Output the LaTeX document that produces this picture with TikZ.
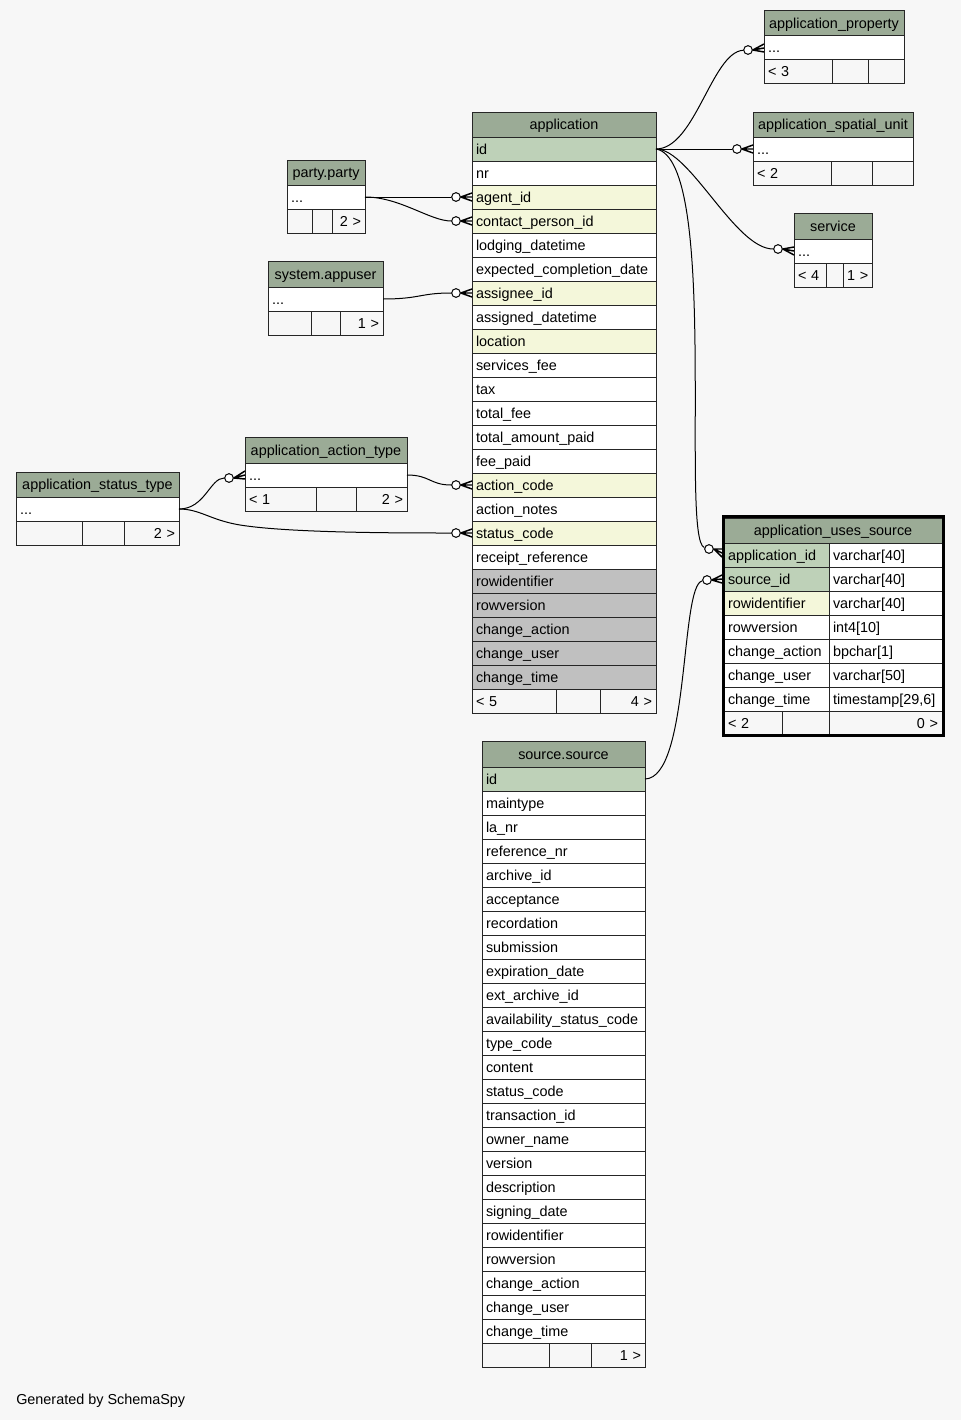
\documentclass[tikz,border=0pt]{standalone}
\usepackage{fontspec}
\setmainfont{Liberation Sans}
\definecolor{bg}{HTML}{F7F7F7}
\definecolor{hd}{HTML}{9BAB96}
\definecolor{pk}{HTML}{BED1B8}
\definecolor{fk}{HTML}{F4F7DA}
\definecolor{wh}{HTML}{FFFFFF}
\definecolor{gr}{HTML}{C0C0C0}
\definecolor{ft}{HTML}{F7F7F7}
\tikzset{
  cell/.style={draw=black!85, line width=0.75pt, inner xsep=3pt, inner ysep=0pt,
    outer sep=0pt, text height=9pt, text depth=1.5pt},
  conn/.style={draw=black, line width=0.75pt},
  foot/.style={draw=black, line width=1.1pt},
  dot/.style={circle, draw=black, fill=white, line width=0.75pt,
    minimum size=6.5pt, inner sep=0pt},
}
% one table cell: name, left, top, width, height, fill, alignment, text
\newcommand\erdcell[8]{%
  \pgfmathsetlengthmacro\erdw{#4*0.75pt}%
  \pgfmathsetlengthmacro\erdh{#5*0.75pt}%
  \pgfmathsetlengthmacro\erdtw{(#4-8)*0.75pt}%
  \pgfmathsetmacro\erdx{#2+#4/2}%
  \pgfmathsetmacro\erdy{#3+#5/2}%
  \node[cell,#6,minimum width=\erdw,minimum height=\erdh,text width=\erdtw,align=#7]
    (#1) at (\erdx,\erdy) {\mbox{#8}};}
% crow's foot between the ring and the column it points at
\newcommand\crowfoot[2]{%
  \draw[foot] (#1.east) -- ([yshift=3pt]#2) (#1.east) -- (#2) (#1.east) -- ([yshift=-3pt]#2);}
\begin{document}
\begin{tikzpicture}[x=0.75pt,y=-0.75pt,font=\fontsize{10.8}{13}\selectfont]
\fill[bg] (0,0) rectangle (961,1420);
\useasboundingbox (0,0) rectangle (961,1420);

% application_property
\erdcell{apr-h}{764}{11}{140}{25}{fill=hd}{center}{application\_property}
\erdcell{apr-1}{764}{36}{140}{24}{fill=wh}{left}{...}
\erdcell{apr-f1}{764}{60}{68}{24}{fill=ft}{left}{< 3}
\erdcell{apr-f2}{832}{60}{36}{24}{fill=ft}{left}{}
\erdcell{apr-f3}{868}{60}{36}{24}{fill=ft}{right}{}

% application_spatial_unit
\erdcell{asu-h}{753}{112}{160}{25}{fill=hd}{center}{application\_spatial\_unit}
\erdcell{asu-1}{753}{137}{160}{24}{fill=wh}{left}{...}
\erdcell{asu-f1}{753}{161}{78}{24}{fill=ft}{left}{< 2}
\erdcell{asu-f2}{831}{161}{41}{24}{fill=ft}{left}{}
\erdcell{asu-f3}{872}{161}{41}{24}{fill=ft}{right}{}

% service
\erdcell{svc-h}{794}{213}{78}{26}{fill=hd}{center}{service}
\erdcell{svc-1}{794}{239}{78}{24}{fill=wh}{left}{...}
\erdcell{svc-f1}{794}{263}{32}{24}{fill=ft}{left}{< 4}
\erdcell{svc-f2}{826}{263}{17}{24}{fill=ft}{left}{}
\erdcell{svc-f3}{843}{263}{29}{24}{fill=ft}{right}{1 >}

% party.party
\erdcell{pty-h}{287}{160}{78}{25}{fill=hd}{center}{party.party}
\erdcell{pty-1}{287}{185}{78}{24}{fill=wh}{left}{...}
\erdcell{pty-f1}{287}{209}{25}{24}{fill=ft}{left}{}
\erdcell{pty-f2}{312}{209}{20}{24}{fill=ft}{left}{}
\erdcell{pty-f3}{332}{209}{33}{24}{fill=ft}{right}{2 >}

% system.appuser
\erdcell{usr-h}{268}{261}{115}{26}{fill=hd}{center}{system.appuser}
\erdcell{usr-1}{268}{287}{115}{24}{fill=wh}{left}{...}
\erdcell{usr-f1}{268}{311}{43}{24}{fill=ft}{left}{}
\erdcell{usr-f2}{311}{311}{29}{24}{fill=ft}{left}{}
\erdcell{usr-f3}{340}{311}{43}{24}{fill=ft}{right}{1 >}

% application_action_type
\erdcell{aat-h}{245}{437}{162}{26}{fill=hd}{center}{application\_action\_type}
\erdcell{aat-1}{245}{463}{162}{24}{fill=wh}{left}{...}
\erdcell{aat-f1}{245}{487}{71}{24}{fill=ft}{left}{< 1}
\erdcell{aat-f2}{316}{487}{40}{24}{fill=ft}{left}{}
\erdcell{aat-f3}{356}{487}{51}{24}{fill=ft}{right}{2 >}

% application_status_type
\erdcell{ast-h}{16}{472}{163}{25}{fill=hd}{center}{application\_status\_type}
\erdcell{ast-1}{16}{497}{163}{24}{fill=wh}{left}{...}
\erdcell{ast-f1}{16}{521}{66}{24}{fill=ft}{left}{}
\erdcell{ast-f2}{82}{521}{42}{24}{fill=ft}{left}{}
\erdcell{ast-f3}{124}{521}{55}{24}{fill=ft}{right}{2 >}

% application
\erdcell{ap-h}{472}{112}{184}{25}{fill=hd}{center}{application}
\foreach \t/\f [count=\i from 0] in {id/pk, nr/wh, agent\_id/fk, contact\_person\_id/fk,
  lodging\_datetime/wh, expected\_completion\_date/wh, assignee\_id/fk,
  assigned\_datetime/wh, location/fk, services\_fee/wh, tax/wh, total\_fee/wh,
  total\_amount\_paid/wh, fee\_paid/wh, action\_code/fk, action\_notes/wh,
  status\_code/fk, receipt\_reference/wh, rowidentifier/gr, rowversion/gr,
  change\_action/gr, change\_user/gr, change\_time/gr}
  {\erdcell{ap-\i}{472}{137+24*\i}{184}{24}{fill=\f}{left}{\t}}
\erdcell{ap-f1}{472}{689}{84}{24}{fill=ft}{left}{< 5}
\erdcell{ap-f2}{556}{689}{44}{24}{fill=ft}{left}{}
\erdcell{ap-f3}{600}{689}{56}{24}{fill=ft}{right}{4 >}

% source.source
\erdcell{src-h}{482}{741}{163}{26}{fill=hd}{center}{source.source}
\foreach \t/\f [count=\i from 0] in {id/pk, maintype/wh, la\_nr/wh, reference\_nr/wh,
  archive\_id/wh, acceptance/wh, recordation/wh, submission/wh, expiration\_date/wh,
  ext\_archive\_id/wh, availability\_status\_code/wh, type\_code/wh, content/wh,
  status\_code/wh, transaction\_id/wh, owner\_name/wh, version/wh, description/wh,
  signing\_date/wh, rowidentifier/wh, rowversion/wh, change\_action/wh,
  change\_user/wh, change\_time/wh}
  {\erdcell{src-\i}{482}{767+24*\i}{163}{24}{fill=\f}{left}{\t}}
\erdcell{src-f1}{482}{1343}{67}{24}{fill=ft}{left}{}
\erdcell{src-f2}{549}{1343}{42}{24}{fill=ft}{left}{}
\erdcell{src-f3}{591}{1343}{54}{24}{fill=ft}{right}{1 >}

% application_uses_source (focus table, two columns, heavy frame)
\erdcell{aus-h}{724}{518}{218}{25}{fill=hd}{center}{application\_uses\_source}
\foreach \t/\f/\ty [count=\i from 1] in {application\_id/pk/varchar[40],
  source\_id/pk/varchar[40], rowidentifier/fk/varchar[40], rowversion/wh/int4[10],
  change\_action/wh/bpchar[1], change\_user/wh/varchar[50],
  change\_time/wh/{timestamp[29,6]}}
  {\erdcell{aus-\i}{724}{519+24*\i}{105}{24}{fill=\f}{left}{\t}
   \erdcell{aust-\i}{829}{519+24*\i}{113}{24}{fill=wh}{left}{\ty}}
\erdcell{aus-f1}{724}{711}{58}{24}{fill=ft}{left}{< 2}
\erdcell{aus-f2}{782}{711}{47}{24}{fill=ft}{left}{}
\erdcell{aus-f3}{829}{711}{113}{24}{fill=ft}{right}{0 >}
\draw[black, line width=2.25pt] (723,516.5) rectangle (943.5,735.5);

% rings at the many side of each relationship
\node[dot] (k1) at (748,50) {};
\node[dot] (k2) at (737,149) {};
\node[dot] (k3) at (778,249) {};
\node[dot] (k4) at (709,549) {};
\node[dot] (k5) at (707,580) {};
\node[dot] (k6) at (456,197) {};
\node[dot] (k7) at (456,221) {};
\node[dot] (k8) at (456,293) {};
\node[dot] (k9) at (456,485) {};
\node[dot] (k10) at (229,478) {};
\node[dot] (k11) at (456,533) {};

% relationships
\draw[conn] (ap-0.east) .. controls (695,149) and (712,52) .. (k1);
\draw[conn] (ap-0.east) -- (k2);
\draw[conn] (ap-0.east) .. controls (690,149) and (735,249) .. (k3);
\draw[conn] (ap-0.east) .. controls (720,160) and (680,540) .. (k4);
\draw[conn] (src-0.east) .. controls (690,778) and (680,585) .. (k5);
\draw[conn] (pty-1.east) -- (k6);
\draw[conn] (pty-1.east) .. controls (400,197) and (430,221) .. (k7);
\draw[conn] (usr-1.east) .. controls (420,299) and (420,293) .. (k8);
\draw[conn] (aat-1.east) .. controls (430,475) and (430,485) .. (k9);
\draw[conn] (ast-1.east) .. controls (205,509) and (210,478) .. (k10);
\draw[conn] (ast-1.east) .. controls (200,509) and (210,520) .. (240,525)
  .. controls (290,533) and (400,533) .. (k11);

% feet on the heavy frame sit just outside its inner cells
\coordinate (t4) at ([xshift=-1.5pt,yshift=1.5pt]aus-1.west);
\coordinate (t5) at ([xshift=-1.5pt]aus-2.west);
\crowfoot{k1}{apr-1.west}
\crowfoot{k2}{asu-1.west}
\crowfoot{k3}{svc-1.west}
\crowfoot{k4}{t4}
\crowfoot{k5}{t5}
\crowfoot{k6}{ap-2.west}
\crowfoot{k7}{ap-3.west}
\crowfoot{k8}{ap-6.west}
\crowfoot{k9}{ap-14.west}
\crowfoot{k10}{aat-1.west}
\crowfoot{k11}{ap-16.west}

\node[anchor=base west, inner sep=0pt] (gen) at (16,1404.5) {Generated by SchemaSpy};
\end{tikzpicture}
\end{document}
